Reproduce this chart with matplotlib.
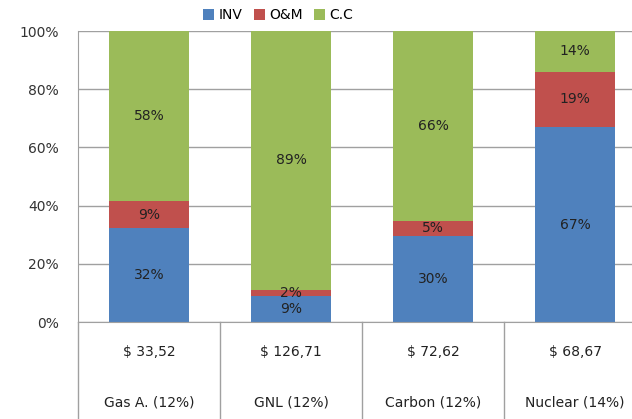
import numpy as np
import matplotlib.pyplot as plt

plt.rcParams['font.family'] = ['DejaVu Sans']

categories = ["Gas A. (12%)", "GNL (12%)", "Carbon (12%)", "Nuclear (14%)"]
costs = ["$ 33,52", "$ 126,71", "$ 72,62", "$ 68,67"]
series = ["INV", "O&M", "C.C"]
inv = [32, 9, 30, 67]
om = [9, 2, 5, 19]
cc = [58, 89, 66, 14]
colors = ["#4F81BD", "#C0504D", "#9BBB59"]

data = np.array([inv, om, cc], dtype=float)
shares = data / data.sum(axis=0) * 100

fig = plt.figure(figsize=(6.32, 4.19), dpi=100)
ax = fig.add_axes([78 / 632, 1 - 322 / 419, 568 / 632, 291 / 419])

x = np.arange(len(categories))
bottom = np.zeros(len(categories))
for i, name in enumerate(series):
    ax.bar(x, shares[i], 0.57, bottom=bottom, color=colors[i], label=name, zorder=2)
    for j in range(len(categories)):
        ax.text(x[j], bottom[j] + shares[i][j] / 2, f"{int(data[i][j])}%",
                ha="center", va="center", fontsize=10, color="#222222", zorder=3)
    bottom += shares[i]

ax.set_xlim(-0.5, len(categories) - 0.5)
ax.set_ylim(0, 100)
ax.set_yticks(range(0, 101, 20))
ax.set_yticklabels([f"{v}%" for v in range(0, 101, 20)], fontsize=10, color="#333333")
ax.tick_params(axis="y", length=0, pad=14)
ax.set_xticks([])
ax.grid(axis="y", color="#A0A0A0", linewidth=1, zorder=0)
for s in ["top", "right"]:
    ax.spines[s].set_visible(False)
ax.spines["left"].set_color("#A0A0A0")
ax.spines["bottom"].set_color("#A0A0A0")

# table under the bars
trans = ax.get_xaxis_transform()
for j in range(len(categories)):
    ax.text(x[j], -0.103, costs[j], transform=trans, ha="center", va="center",
            fontsize=10, color="#222222")
    ax.text(x[j], -0.278, categories[j], transform=trans, ha="center", va="center",
            fontsize=10, color="#222222")
for b in np.arange(-0.5, len(categories), 1.0):
    ax.plot([b, b], [0, -0.35], transform=trans, color="#A0A0A0", linewidth=1, clip_on=False)

fig.legend(loc="center", bbox_to_anchor=(0.44, 0.964), ncol=3, frameon=False,
           fontsize=10, handlelength=0.8, handleheight=0.8, handletextpad=0.3,
           columnspacing=0.8)

plt.savefig("out.png")
